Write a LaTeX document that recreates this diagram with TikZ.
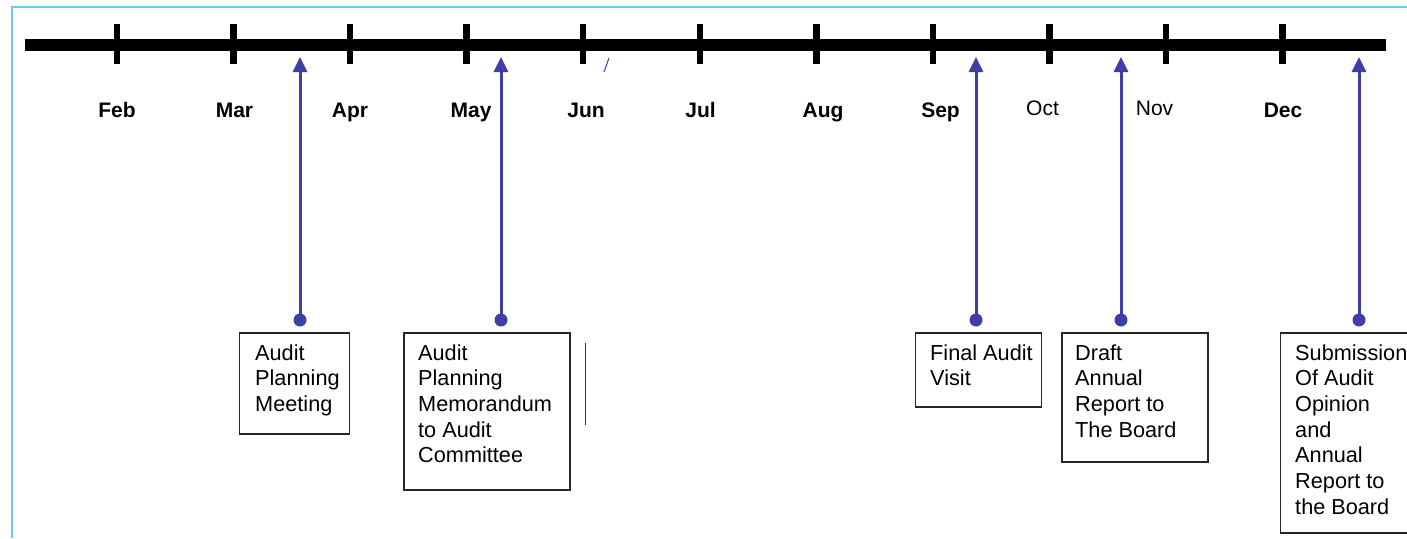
\documentclass[tikz,border=0pt]{standalone}
\usepackage{fontspec}
\setmainfont{Liberation Sans}
\usetikzlibrary{arrows.meta}
\definecolor{evblue}{RGB}{62,62,166}
\definecolor{frameblue}{RGB}{110,200,232}
\begin{document}
\begin{tikzpicture}[x=1pt,y=-1pt,
  axisline/.style={line width=12pt},
  monthtick/.style={line width=6.5pt},
  mlab/.style={font=\fontsize{21}{25}\selectfont\bfseries, anchor=base, inner sep=0},
  mlabr/.style={font=\fontsize{21}{25}\selectfont, anchor=base, inner sep=0},
  evbox/.style={draw=black!85, line width=1.5pt, anchor=north west, inner sep=0},
  evtext/.style={font=\fontsize{21.7}{25.7}\selectfont, align=left, anchor=north west, inner sep=0},
  evdot/.style={circle, fill=evblue, minimum size=13pt, inner sep=0},
  conn/.style={draw=evblue, line width=3pt, -{Triangle[length=15pt,width=14pt]}},
]
\clip (0,0) rectangle (1407,538);
\fill[white] (0,0) rectangle (1407,538);
% frame
\draw[frameblue, line width=2pt] (12,538) -- (12,7) -- (1407,7);
% timeline
\coordinate (ls) at (25,45);
\coordinate (le) at (1386,45);
\draw[axisline] (ls) -- (le);
\foreach \i in {0,...,10}{
  \coordinate (tt\i) at ({117+116.55*\i},24);
  \coordinate (tb\i) at ({117+116.55*\i},64);
  \draw[monthtick] (tt\i) -- (tb\i);
}
% month labels
\node[mlab] (feb) at (117,117) {Feb};
\node[mlab] (mar) at (234.5,117) {Mar};
\node[mlab] (apr) at (350,117) {Apr};
\node[mlab] (may) at (471,117) {May};
\node[mlab] (jun) at (586,117) {Jun};
\node[mlab] (jul) at (700.5,117) {Jul};
\node[mlab] (aug) at (823,117) {Aug};
\node[mlab] (sep) at (940.5,117) {Sep};
\node[mlabr] (oct) at (1042.5,115) {Oct};
\node[mlabr] (nov) at (1154.5,115) {Nov};
\node[mlab] (dec) at (1283,117) {Dec};
% remnant fragments
\draw[black!80, line width=1pt] (585,343) -- (585,425);
\draw[evblue, line width=1pt] (604,72) -- (609,58);
% event boxes (text top = first baseline 360 minus strut height)
\node[evbox, minimum width=110pt, minimum height=101pt] (b1) at (238.5,332) {};
\node[evtext] (t1) at (255,342) {\strut Audit\\Planning\\Meeting};
\node[evbox, minimum width=166pt, minimum height=157pt] (b2) at (403,332) {};
\node[evtext] (t2) at (418,342) {\strut Audit\\Planning\\Memorandum\\to Audit\\Committee};
\node[evbox, minimum width=126pt, minimum height=74pt] (b3) at (914.5,332) {};
\node[evtext] (t3) at (930,342) {\strut Final Audit\\Visit};
\node[evbox, minimum width=146pt, minimum height=129pt] (b4) at (1061,332) {};
\node[evtext] (t4) at (1075,342) {\strut Draft\\Annual\\Report to\\The Board};
\node[evbox, minimum width=180pt, minimum height=200pt] (b5) at (1279.5,332) {};
\node[evtext] (t5) at (1295,342) {\strut Submission\\Of Audit\\Opinion\\and\\Annual\\Report to\\the Board};
% arrows
\foreach \n/\x in {1/300,2/501,3/976,4/1121,5/1359}{
  \node[evdot] (d\n) at (\x,320) {};
  \coordinate (a\n) at (\x,57);
  \draw[conn] (d\n.center) -- (a\n);
}
\end{tikzpicture}
\end{document}
